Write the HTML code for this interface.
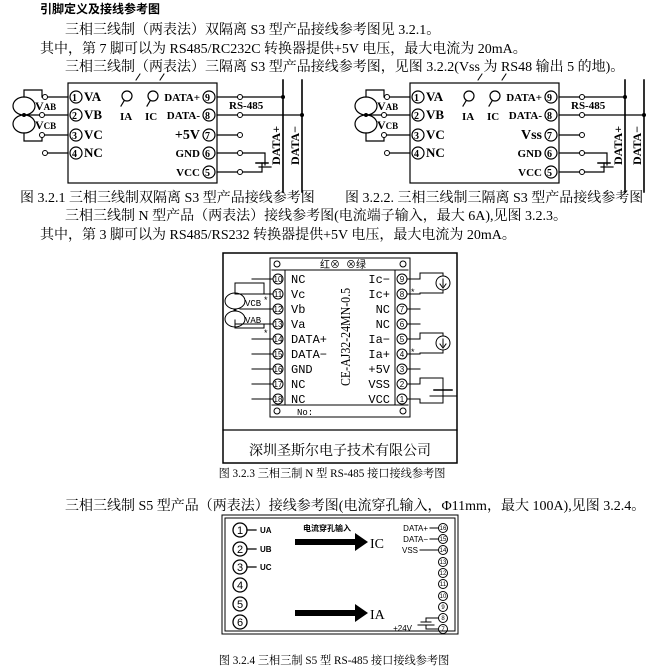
<!DOCTYPE html>
<html><head><meta charset="utf-8"><style>
body{margin:0;background:#fff;width:663px;height:671px;overflow:hidden}
svg{display:block}
.t{font-family:"Liberation Serif","Noto Serif CJK SC",serif;font-size:14px;fill:#000}
.b{font-family:"Liberation Sans","Noto Sans CJK SC",sans-serif;font-weight:bold;fill:#000}
.m{font-family:"Liberation Mono","Noto Sans CJK SC",monospace;fill:#000}
</style></head><body>
<svg width="663" height="671" viewBox="0 0 663 671" xmlns="http://www.w3.org/2000/svg" stroke-linecap="square">
<text x="40" y="13" class="b" font-size="12">引脚定义及接线参考图</text>
<text x="65" y="34" class="t">三相三线制（两表法）双隔离 S3 型产品接线参考图见 3.2.1。</text>
<text x="40" y="53" class="t">其中，第 7 脚可以为 RS485/RC232C 转换器提供+5V 电压，最大电流为 20mA。</text>
<text x="65" y="71" class="t">三相三线制（两表法）三隔离 S3 型产品接线参考图，见图 3.2.2(Vss 为 RS48 输出 5 的地)。</text>

<defs>
<g id="dg">
<rect x="68" y="83" width="149" height="100" fill="#fff" stroke="#000" stroke-width="1.2"/>
<path d="M136 80 l4 -6 M160 80 l4 -6" stroke="#000"/>
<g fill="none" stroke="#000" stroke-width="1.2">
<circle cx="76" cy="97" r="6"/><circle cx="76" cy="115" r="6"/><circle cx="76" cy="135" r="6"/><circle cx="76" cy="153" r="6"/>
<circle cx="209" cy="97" r="6"/><circle cx="209" cy="115" r="6"/><circle cx="209" cy="135" r="6"/><circle cx="209" cy="153" r="6"/><circle cx="209" cy="172" r="6"/>
<path d="M45 97 H68 M45 115 H68 M45 135 H68 M47 153 H68"/>
<path d="M217 97 H283 M217 115 H302 M217 135 H240 M217 153 H265 V165 M217 172 H262 V163"/>
<path d="M256 163 H268" stroke-width="1.5"/><path d="M259 167 H271"/>
<path d="M283 80 V192 M302 80 V192" stroke-width="1.6"/>
<ellipse cx="24" cy="106" rx="11" ry="9"/><ellipse cx="24" cy="124" rx="11" ry="9"/>
<path d="M24 97 V90 H42 V97 M24 115 H42 M24 133 V141 H42 V135"/>
<circle cx="127" cy="96" r="5"/><circle cx="153" cy="96" r="5"/>
<path d="M124 101 l-3 5 M150 101 l-3 5"/>
</g>
<g fill="#fff" stroke="#000">
<circle cx="45" cy="97" r="2.5"/><circle cx="42" cy="115" r="2.5"/><circle cx="42" cy="135" r="2.5"/><circle cx="45" cy="153" r="2.5"/>
<circle cx="240" cy="97" r="2.5"/><circle cx="240" cy="115" r="2.5"/><circle cx="240" cy="135" r="2.5"/><circle cx="240" cy="153" r="2.5"/><circle cx="240" cy="172" r="2.5"/>
</g>
<circle cx="283" cy="97" r="2"/><circle cx="302" cy="115" r="2"/><circle cx="24" cy="115" r="2"/>
<g class="t" font-weight="bold" font-size="12">
<text x="72" y="101" font-size="10">1</text><text x="72" y="119" font-size="10">2</text><text x="72" y="139" font-size="10">3</text><text x="72" y="157" font-size="10">4</text>
<text x="84" y="101" font-size="13">VA</text><text x="84" y="119" font-size="13">VB</text><text x="84" y="139" font-size="13">VC</text><text x="84" y="157" font-size="13">NC</text>
<text x="205" y="101" font-size="10">9</text><text x="205" y="119" font-size="10">8</text><text x="205" y="139" font-size="10">7</text><text x="205" y="157" font-size="10">6</text><text x="205" y="176" font-size="10">5</text>
<text x="200" y="101" text-anchor="end" font-size="11">DATA+</text><text x="200" y="119" text-anchor="end" font-size="11">DATA-</text>
<text x="200" y="157" text-anchor="end" font-size="11">GND</text><text x="200" y="176" text-anchor="end" font-size="11">VCC</text>
<text x="120" y="120" font-size="11">IA</text><text x="145" y="120" font-size="11">IC</text>
<text x="229" y="109" font-size="11">RS-485</text>
<text x="35" y="110" font-size="12">V<tspan font-size="9">AB</tspan></text>
<text x="35" y="129" font-size="12">V<tspan font-size="9">CB</tspan></text>
<text transform="translate(280,165) rotate(-90)" font-size="12">DATA+</text>
<text transform="translate(299,165) rotate(-90)" font-size="12">DATA−</text>
</g>
</g>
</defs>
<use href="#dg"/>
<text x="200" y="139" text-anchor="end" class="t" font-weight="bold" font-size="12">+5V</text>
<g transform="translate(342,0)"><use href="#dg"/>
<text x="200" y="139" text-anchor="end" class="t" font-weight="bold" font-size="12">Vss</text></g>

<text x="20" y="202" class="t" font-size="13">图 3.2.1  三相三线制双隔离 S3 型产品接线参考图</text>
<text x="345" y="202" class="t" font-size="13">图 3.2.2. 三相三线制三隔离 S3 型产品接线参考图</text>
<text x="65" y="220" class="t">三相三线制 N 型产品（两表法）接线参考图(电流端子输入，最大 6A),见图 3.2.3。</text>
<text x="40" y="239" class="t">其中，第 3 脚可以为 RS485/RS232 转换器提供+5V 电压，最大电流为 20mA。</text>

<rect x="223" y="253" width="234" height="210" fill="none" stroke="#000" stroke-width="1.5"/>
<path d="M223 430 H457" stroke="#000" stroke-width="1.2"/>
<text x="340" y="455" text-anchor="middle" class="t" font-family="Noto Sans CJK SC,sans-serif" font-size="13">深圳圣斯尔电子技术有限公司</text>
<rect x="270" y="258" width="140" height="159" fill="none" stroke="#000"/>
<path d="M272 270 H408 M272 405 H408 M285 270 V405 M395 270 V405" stroke="#000"/>
<text x="320" y="268" class="m" font-size="10">红⊗ ⊗绿</text>
<text x="297" y="415" class="m" font-size="9">No:</text>
<g fill="none" stroke="#000">
<circle cx="277" cy="264" r="3"/><circle cx="403" cy="264" r="3"/><circle cx="277" cy="411" r="3"/><circle cx="403" cy="411" r="3"/>
</g>
<g class="m" font-size="12" font-family="Liberation Serif">
<text x="291" y="283">NC</text><text x="291" y="298">Vc</text><text x="291" y="313">Vb</text><text x="291" y="328">Va</text><text x="291" y="343">DATA+</text><text x="291" y="358">DATA−</text><text x="291" y="373">GND</text><text x="291" y="388">NC</text><text x="291" y="403">NC</text>
<g text-anchor="end"><text x="390" y="283">Ic−</text><text x="390" y="298">Ic+</text><text x="390" y="313">NC</text><text x="390" y="328">NC</text><text x="390" y="343">Ia−</text><text x="390" y="358">Ia+</text><text x="390" y="373">+5V</text><text x="390" y="388">VSS</text><text x="390" y="403">VCC</text></g>
</g>
<g font-family="Liberation Sans" font-size="8" text-anchor="middle">
<g fill="none" stroke="#000">
<circle cx="278" cy="279" r="5"/><circle cx="278" cy="294" r="5"/><circle cx="278" cy="309" r="5"/><circle cx="278" cy="324" r="5"/><circle cx="278" cy="339" r="5"/><circle cx="278" cy="354" r="5"/><circle cx="278" cy="369" r="5"/><circle cx="278" cy="384" r="5"/><circle cx="278" cy="399" r="5"/>
<circle cx="402" cy="279" r="5"/><circle cx="402" cy="294" r="5"/><circle cx="402" cy="309" r="5"/><circle cx="402" cy="324" r="5"/><circle cx="402" cy="339" r="5"/><circle cx="402" cy="354" r="5"/><circle cx="402" cy="369" r="5"/><circle cx="402" cy="384" r="5"/><circle cx="402" cy="399" r="5"/>
</g>
<text x="278" y="282">10</text><text x="278" y="297">11</text><text x="278" y="312">12</text><text x="278" y="327">13</text><text x="278" y="342">14</text><text x="278" y="357">15</text><text x="278" y="372">16</text><text x="278" y="387">17</text><text x="278" y="402">18</text>
<text x="402" y="282">9</text><text x="402" y="297">8</text><text x="402" y="312">7</text><text x="402" y="327">6</text><text x="402" y="342">5</text><text x="402" y="357">4</text><text x="402" y="372">3</text><text x="402" y="387">2</text><text x="402" y="402">1</text>
</g>
<text transform="translate(350,337) rotate(-90) scale(0.85,1)" text-anchor="middle" class="t" font-size="14">CE-AJ32-24MN-0.5</text>
<g fill="none" stroke="#000">
<path d="M252 279 H272 M235 294 H272 M240 309 H272 M235 324 H272 M252 339 H272 M252 354 H272 M252 369 H272 M252 384 H272 M252 399 H272"/>
<path d="M264 294 V283 H235 V294 M264 324 V328 H235 V320"/>
<ellipse cx="235" cy="301" rx="10" ry="8"/><ellipse cx="235" cy="319" rx="10" ry="8"/>
<path d="M408 279 H420 V273 H443 V293 H420 V294 H408 M408 309 H420 M408 324 H420 M408 339 H420 V333 H443 V353 H420 V354 H408 M408 369 H420 M408 384 H420 V378 H443 V403 H420 V399 H408"/>
<circle cx="443" cy="283" r="7" fill="#fff"/><circle cx="443" cy="343" r="7" fill="#fff"/>
<path d="M443 279 V286 M440 284 L443 288 L446 284 M443 339 V346 M440 344 L443 348 L446 344"/>
<path d="M434 390 H452" stroke-width="1.5"/><path d="M430 396 H456"/>
</g>
<circle cx="235" cy="310" r="1.5"/>
<text x="264" y="303" font-size="9" font-family="Liberation Sans">*</text>
<text x="264" y="336" font-size="9" font-family="Liberation Sans">*</text>
<text x="411" y="295" font-size="9" font-family="Liberation Sans">*</text>
<text x="411" y="355" font-size="9" font-family="Liberation Sans">*</text>
<text x="245" y="306" font-size="9" class="m">VCB</text>
<text x="245" y="323" font-size="9" class="m">VAB</text>
<text transform="translate(332,477) scale(0.8)" text-anchor="middle" class="t" font-size="12">图 3.2.3 三相三制 N 型 RS-485 接口接线参考图</text>

<text x="65" y="510" class="t">三相三线制 S5 型产品（两表法）接线参考图(电流穿孔输入，Φ11mm，最大 100A),见图 3.2.4。</text>
<rect x="222" y="515" width="236" height="119" fill="none" stroke="#000" stroke-width="1"/>
<rect x="225" y="518" width="230" height="113" fill="none" stroke="#000" stroke-width="1"/>
<g fill="none" stroke="#000" stroke-width="1.3">
<circle cx="240" cy="530" r="7"/><circle cx="240" cy="549" r="7"/><circle cx="240" cy="567" r="7"/><circle cx="240" cy="585" r="7"/><circle cx="240" cy="604" r="7"/><circle cx="240" cy="622" r="7"/>
<path d="M247 530 H256 M247 549 H256 M247 567 H256"/>
</g>
<g font-family="Liberation Sans" font-size="11" text-anchor="middle">
<text x="240" y="534">1</text><text x="240" y="553">2</text><text x="240" y="571">3</text><text x="240" y="589">4</text><text x="240" y="608">5</text><text x="240" y="626">6</text></g>
<g class="b" font-size="8"><text x="260" y="533">UA</text><text x="260" y="552">UB</text><text x="260" y="570">UC</text></g>
<text x="303" y="531" class="b" font-size="8">电流穿孔输入</text>
<path d="M295 539 H355 V533 L368 542 L355 551 V545 H295 Z" fill="#000"/>
<path d="M295 610 H355 V604 L368 613 L355 622 V616 H295 Z" fill="#000"/>
<text x="370" y="548" class="t" font-size="14">IC</text>
<text x="370" y="619" class="t" font-size="14">IA</text>
<g fill="none" stroke="#000"><circle cx="443" cy="528" r="4.5"/><circle cx="443" cy="539" r="4.5"/><circle cx="443" cy="550" r="4.5"/><circle cx="443" cy="562" r="4.5"/><circle cx="443" cy="573" r="4.5"/><circle cx="443" cy="584" r="4.5"/><circle cx="443" cy="596" r="4.5"/><circle cx="443" cy="607" r="4.5"/><circle cx="443" cy="618" r="4.5"/><circle cx="443" cy="629" r="4.5"/>
<path d="M430 528 H438 M430 539 H438 M420 550 H438 M426 618 H438 M426 629 H438 M426 618 V622 M426 629 V625 M421 622 H431 M418 625 H434"/></g>
<g font-family="Liberation Sans" font-size="6" text-anchor="middle"><text x="443" y="530">16</text><text x="443" y="541">15</text><text x="443" y="552">14</text><text x="443" y="564">13</text><text x="443" y="575">12</text><text x="443" y="586">11</text><text x="443" y="598">10</text><text x="443" y="609">9</text><text x="443" y="620">8</text><text x="443" y="631">7</text></g>
<g font-family="Liberation Sans" font-size="8" text-anchor="end"><text x="428" y="531">DATA+</text><text x="428" y="542">DATA−</text><text x="418" y="553">VSS</text><text x="412" y="631">+24V</text></g>
<text transform="translate(334,664) scale(0.8)" text-anchor="middle" class="t" font-size="12">图 3.2.4 三相三制 S5 型 RS-485 接口接线参考图</text>
</svg>
</body></html>
